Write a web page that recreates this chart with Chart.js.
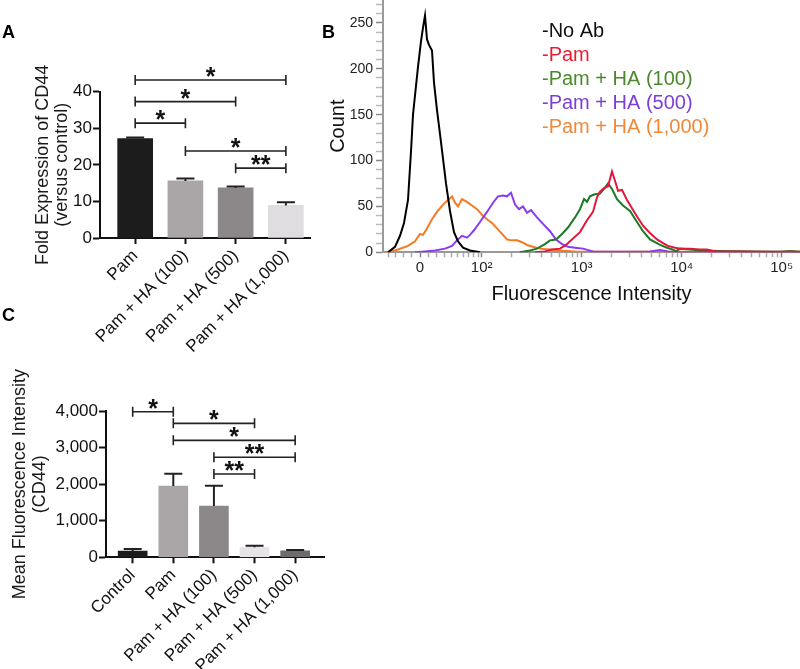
<!DOCTYPE html>
<html><head><meta charset="utf-8">
<script src="https://cdn.jsdelivr.net/npm/chart.js@4"></script>
<style>
html,body{margin:0;padding:0;background:#fff;}
#wrap{position:relative;width:800px;height:669px;overflow:hidden;background:#fff;}
canvas{position:absolute;}
.lbl{position:absolute;font:bold 18px "Liberation Sans",Arial,sans-serif;line-height:18px;color:#000;}
</style></head><body>
<div id="wrap">
<canvas id="cA" width="330" height="380" style="left:0;top:0;width:330px;height:380px"></canvas>
<canvas id="cB" width="470" height="320" style="left:330px;top:0;width:470px;height:320px"></canvas>
<canvas id="cC" width="345" height="309" style="left:0;top:360px;width:345px;height:309px"></canvas>
<div class="lbl" style="left:2px;top:23px">A</div>
<div class="lbl" style="left:322px;top:23px">B</div>
<div class="lbl" style="left:2px;top:306px">C</div>
</div>
<script>
const FONT = '"Liberation Sans", Arial, sans-serif';
Chart.defaults.font.family = FONT;
Chart.defaults.color = '#1a1a1a';

// ---------- Panel A data ----------
const catsA = ['Pam', 'Pam + HA (100)', 'Pam + HA (500)', 'Pam + HA (1,000)'];
const foldA = [27.2, 15.6, 13.7, 8.9];
const foldErrA = [0.25, 0.7, 0.4, 0.85];
const colorsA = ['#1c1c1c', '#aaa6a8', '#8c8889', '#dfdddf'];
const yTicksA = [0, 10, 20, 30, 40];
const sigA = [[0, 1, 31.4, '*'], [0, 2, 37.3, '*'], [0, 3, 43.2, '*'], [1, 3, 23.8, '*'], [2, 3, 19.1, '**']];

// ---------- Panel B data (x in display decades of fluorescence) ----------
const seriesNamesB = ['No Ab', 'Pam', 'Pam + HA (100)', 'Pam + HA (500)', 'Pam + HA (1,000)'];
const lineColorsB = ['#000000', '#e3173c', '#1c7a24', '#8b3cf0', '#f47b22'];
const textColorsB = ['#111111', '#ee1c2e', '#4a8a2c', '#7b3fd6', '#f08a3a'];
const noAbX = [1.063,1.133,1.183,1.223,1.263,1.293,1.313,1.363,1.393,1.413,1.433,1.453,1.473,1.503,1.523,1.553,1.593,1.643,1.683,1.723,1.763,1.813,1.883,1.983];
const noAbY = [0,6,18,32,57,110,150,202,230,245,258,232,226,220,185,155,120,75,45,22,12,5,2,0];
const pamX = [2.533,2.633,2.703,2.783,2.843,2.913,2.983,3.053,3.113,3.153,3.183,3.223,3.263,3.303,3.333,3.363,3.403,3.453,3.503,3.553,3.613,3.683,3.753,3.813,3.863,3.933,3.983,4.083,4.183,4.253,4.333,4.583,4.883,5.183];
const pamY = [0,1,3,4,8,15,22,35,44,60,66,70,72,88,78,67,68,57,48,39,29,21,14,10,7,5,4,4,3,3,1,1,0.5,0.5];
const ha100X = [2.383,2.483,2.553,2.633,2.683,2.743,2.803,2.863,2.933,2.983,3.023,3.053,3.083,3.123,3.183,3.223,3.263,3.303,3.353,3.413,3.483,3.553,3.613,3.683,3.783,3.853,3.913,3.943,3.983,4.083,4.183,4.383,4.683,4.983,5.083,5.183];
const ha100Y = [0,2,4,9,13,14,20,27,38,47,58,55,61,63,64,69,75,69,58,51,45,33,23,14,8,5,3,1,4,3,2,1.5,1,0.5,1.5,0.5];
const ha500X = [1.333,1.433,1.533,1.633,1.703,1.753,1.803,1.853,1.883,1.923,1.983,2.053,2.113,2.163,2.213,2.253,2.293,2.333,2.373,2.413,2.453,2.493,2.553,2.613,2.683,2.743,2.803,2.863,2.933,3.013,3.113,3.283,3.683,3.783,3.863,3.983,5.183];
const ha500Y = [0,1,2,4,7,13,18,16,19,24,33,44,54,61,62,61,65,52,47,50,43,46,38,31,23,14,9,6,5,4,1,0.5,1,2.5,1,0,0];
const ha1000X = [1.063,1.163,1.263,1.333,1.383,1.413,1.453,1.503,1.553,1.613,1.663,1.703,1.733,1.763,1.803,1.853,1.903,1.953,2.003,2.053,2.103,2.153,2.203,2.253,2.303,2.353,2.403,2.453,2.513,2.583,2.683,2.783,2.933,3.183,3.683,5.183];
const ha1000Y = [0,3,7,12,20,19,26,36,44,52,57,61,54,50,58,55,51,47,41,36,32,26,20,14,13,13,11,8,6,4,3,2,1,0.5,0.5,0];
const xMajorB = [1.383, 2, 3, 4, 5];
const xMajorLabelsB = ['0', '10²', '10³', '10⁴', '10⁵'];
const xMinorB = [1.07,1.14,1.22,1.30,1.468,1.549,1.625,1.696,1.759,1.817,1.868,1.919,1.965,2.301,2.477,2.602,2.699,2.778,2.845,2.903,2.954,3.301,3.477,3.602,3.699,3.778,3.845,3.903,3.954,4.301,4.477,4.602,4.699,4.778,4.845,4.903,4.954];
const yTicksB = [0,10,20,30,40,50,60,70,80,90,100,110,120,130,140,150,160,170,180,190,200,210,220,230,240,250,260,270];

// ---------- Panel C data ----------
const catsC = ['Control', 'Pam', 'Pam + HA (100)', 'Pam + HA (500)', 'Pam + HA (1,000)'];
const mfiC = [170, 1950, 1400, 273, 180];
const mfiErrC = [60, 335, 555, 45, 20];
const colorsC = ['#1c1c1c', '#aaa6a8', '#8c8889', '#e6e4e6', '#6f6b6c'];
const yTicksC = [0, 1000, 2000, 3000, 4000];
const sigC = [[0, 1, 3980, '*'], [1, 3, 3663, '*'], [1, 4, 3198, '*'], [2, 4, 2734, '**'], [2, 3, 2277, '**']];

// ---------- helpers ----------
function fixScale(w, h) {
  return s => {
    if (w != null) s.width = w;
    if (h != null) s.height = h;
    s.paddingTop = 0; s.paddingBottom = 0; s.paddingLeft = 0; s.paddingRight = 0;
  };
}
function setTicks(vals) { return s => { s.ticks = vals.map(v => ({ value: v })); }; }

function errorPlugin(means, errs, cap) {
  return {
    id: 'errbars',
    afterDatasetsDraw(chart) {
      const { ctx, scales: { x, y } } = chart;
      ctx.save();
      ctx.strokeStyle = '#222'; ctx.lineWidth = 2;
      means.forEach((m, i) => {
        const px = x.getPixelForValue(i);
        const y0 = y.getPixelForValue(m), y1 = y.getPixelForValue(m + errs[i]);
        ctx.beginPath();
        ctx.moveTo(px, y0); ctx.lineTo(px, y1);
        ctx.moveTo(px - cap / 2, y1); ctx.lineTo(px + cap / 2, y1);
        ctx.stroke();
      });
      ctx.restore();
    }
  };
}
function bracketPlugin(items) {
  return {
    id: 'brackets',
    afterDraw(chart) {
      const { ctx, scales: { x, y } } = chart;
      ctx.save();
      ctx.strokeStyle = '#222'; ctx.fillStyle = '#111'; ctx.lineWidth = 1.6;
      ctx.font = 'bold 25px ' + FONT;
      ctx.textAlign = 'center'; ctx.textBaseline = 'alphabetic';
      items.forEach(([a, b, v, label]) => {
        const x1 = x.getPixelForValue(a), x2 = x.getPixelForValue(b), yy = y.getPixelForValue(v);
        ctx.beginPath();
        ctx.moveTo(x1, yy); ctx.lineTo(x2, yy);
        ctx.moveTo(x1, yy - 5); ctx.lineTo(x1, yy + 5);
        ctx.moveTo(x2, yy - 5); ctx.lineTo(x2, yy + 5);
        ctx.stroke();
        ctx.fillText(label, (x1 + x2) / 2, yy + 5);
      });
      ctx.restore();
    }
  };
}

function barOptions(cfg) {
  return {
    responsive: false, animation: false,
    layout: { padding: cfg.padding },
    plugins: { legend: { display: false }, tooltip: { enabled: false } },
    scales: {
      x: {
        type: 'linear', min: cfg.xmin, max: cfg.xmax, offset: false,
        afterBuildTicks: setTicks(cfg.cats.map((c, i) => i)),
        afterFit: fixScale(null, cfg.xh),
        grid: { offset: false, drawOnChartArea: false, drawTicks: true, tickLength: 6, tickWidth: 2, tickColor: '#111' },
        border: { display: true, color: '#111', width: 2 },
        ticks: { autoSkip: false, minRotation: 45, maxRotation: 45, padding: 2, color: '#111', font: { size: 17 }, callback: v => cfg.cats[v] }
      },
      y: {
        type: 'linear', min: 0, max: cfg.ymax,
        afterBuildTicks: setTicks(cfg.yticks),
        afterFit: fixScale(cfg.yw, null),
        grid: { drawOnChartArea: false, drawTicks: true, tickLength: 7, tickWidth: 2, tickColor: '#111' },
        border: { display: true, color: '#111', width: 2 },
        ticks: { autoSkip: false, padding: 1, color: '#111', font: { size: 17 }, callback: cfg.yfmt },
        title: { display: true, text: cfg.ytitle, color: '#1a1a1a', font: { size: 18, lineHeight: cfg.tlh }, padding: { top: cfg.tpad, bottom: 0 } }
      }
    }
  };
}

// ---------- Panel A ----------
new Chart(document.getElementById('cA'), {
  type: 'bar',
  data: { datasets: [{ data: foldA.map((v, i) => ({ x: i, y: v })), backgroundColor: colorsA, barThickness: 35, borderWidth: 0 }] },
  options: barOptions({ padding: { left: 0, top: 91.7, right: 20, bottom: 0 }, xmin: -0.7, xmax: 3.48, cats: catsA, xh: 142,
    ymax: 40, yticks: yTicksA, yw: 100, yfmt: v => String(v), ytitle: ['Fold Expression of CD44', '(versus control)'], tlh: '19px', tpad: 33.5 }),
  plugins: [errorPlugin(foldA, foldErrA, 18), bracketPlugin(sigA)]
});

// ---------- Panel C ----------
new Chart(document.getElementById('cC'), {
  type: 'bar',
  data: { datasets: [{ data: mfiC.map((v, i) => ({ x: i, y: v })), backgroundColor: colorsC, barThickness: 29, borderWidth: 0 }] },
  options: barOptions({ padding: { left: 0, top: 51, right: 21, bottom: 0 }, xmin: -0.657, xmax: 4.71, cats: catsC, xh: 111.7,
    ymax: 4000, yticks: yTicksC, yw: 106, yfmt: v => v.toLocaleString('en-US'), ytitle: ['Mean Fluorescence Intensity', '(CD44)'], tlh: '20px', tpad: 10.5 }),
  plugins: [errorPlugin(mfiC, mfiErrC, 18), bracketPlugin(sigC)]
});

// ---------- Panel B ----------
const xsB = [noAbX, pamX, ha100X, ha500X, ha1000X];
const ysB = [noAbY, pamY, ha100Y, ha500Y, ha1000Y];
const legendB = {
  id: 'legendB',
  afterDraw(chart) {
    const ctx = chart.ctx;
    ctx.save();
    ctx.font = '20px ' + FONT;
    ctx.textAlign = 'left'; ctx.textBaseline = 'middle';
    seriesNamesB.forEach((n, i) => { ctx.fillStyle = textColorsB[i]; ctx.fillText('-' + n, 212, 31 + i * 24.2); });
    ctx.restore();
  }
};
const allXTicksB = xMajorB.concat(xMinorB).sort((a, b) => a - b);
new Chart(document.getElementById('cB'), {
  type: 'line',
  data: {
    datasets: seriesNamesB.map((n, k) => ({
      label: n,
      data: xsB[k].map((x, i) => ({ x: x, y: ysB[k][i] })),
      borderColor: lineColorsB[k], borderWidth: 2, pointRadius: 0, tension: 0, fill: false
    }))
  },
  options: {
    responsive: false, animation: false,
    layout: { padding: { left: 0, top: 0, right: 0, bottom: 0 } },
    plugins: { legend: { display: false }, tooltip: { enabled: false } },
    scales: {
      x: {
        type: 'linear', min: 1.013, max: 5.183,
        afterBuildTicks: setTicks(allXTicksB),
        afterFit: fixScale(null, 67.7),
        grid: { drawOnChartArea: false, drawTicks: true, tickLength: 5, tickWidth: 1.5,
          tickColor: c => (xMajorB.indexOf(c.tick.value) >= 0 ? '#888' : '#aaa') },
        border: { display: true, color: '#9a9a9a', width: 2 },
        ticks: { autoSkip: false, minRotation: 0, maxRotation: 0, padding: 2, color: '#222', font: { size: 15 },
          callback: v => { const i = xMajorB.indexOf(v); return i >= 0 ? xMajorLabelsB[i] : ''; } },
        title: { display: true, text: 'Fluorescence Intensity', color: '#111', font: { size: 20 }, padding: { top: 0, bottom: 14 } }
      },
      y: {
        type: 'linear', min: 0, max: 275,
        afterBuildTicks: setTicks(yTicksB),
        afterFit: fixScale(53, null),
        grid: { drawOnChartArea: false, drawTicks: true, tickLength: 7, tickWidth: 1.5,
          tickColor: c => (c.tick.value % 50 === 0 ? '#888' : '#bbb') },
        border: { display: true, color: '#9a9a9a', width: 2 },
        ticks: { autoSkip: false, padding: 3, color: '#222', font: { size: 14 }, callback: v => (v % 50 === 0 ? String(v) : '') },
        title: { display: true, text: 'Count', color: '#111', font: { size: 20, lineHeight: '16px' }, padding: { top: 0, bottom: 0 } }
      }
    }
  },
  plugins: [legendB]
});
</script>
</body></html>
